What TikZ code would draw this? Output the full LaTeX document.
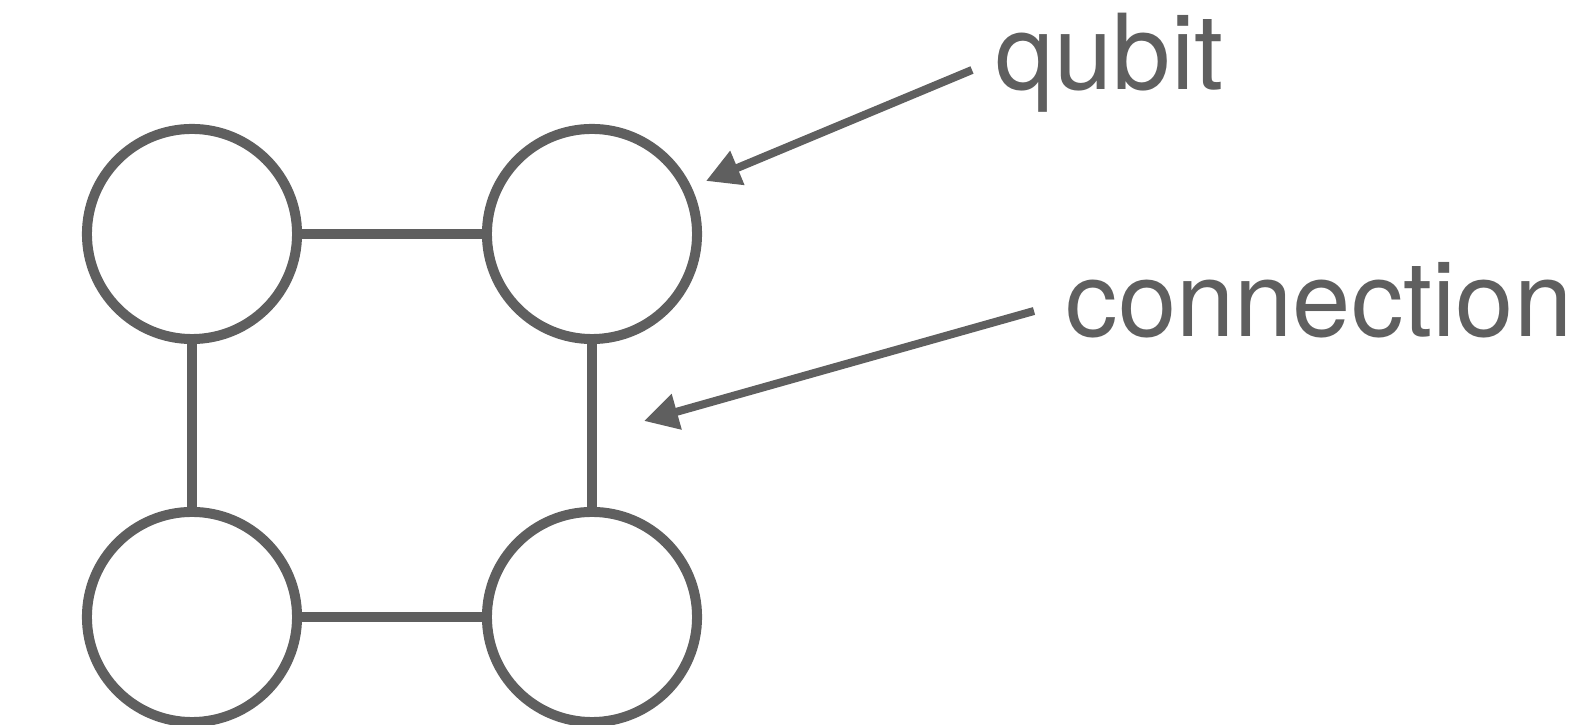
\documentclass[tikz,border=0pt]{standalone}
\usepackage{fontspec}
\setmainfont{TeX Gyre Heros}
\usetikzlibrary{arrows.meta}
\definecolor{linegray}{HTML}{5F5F5F}
\begin{document}
\begin{tikzpicture}[
    x=0.01cm, y=-0.01cm,
    qubit/.style={
      draw,
      color=linegray,
      circle,
      line width=0.1cm,
      minimum size=2.1cm,
      inner sep=0pt
    },
    coupling/.style={
      draw,
      color=linegray,
      line width=0.1cm
    },
    pointer/.style={
      draw,
      color=linegray,
      line width=0.08cm,
      -{Triangle[length=0.34cm,width=0.35cm]}
    },
    tag/.style={
      text=linegray,
      anchor=base west,
      inner sep=0pt,
      font=\fontsize{29.8}{36}\selectfont
    }
  ]
    \useasboundingbox (0,0) rectangle (1593,725);

    \node[qubit] (q11) at (192,234) {};
    \node[qubit] (q12) at (592,234) {};
    \node[qubit] (q21) at (192,617) {};
    \node[qubit] (q22) at (592,617) {};

    \node[tag] (qubitlabel) at (995,89.5) {qubit};
    \node[tag] (connlabel) at (1065,337) {connection};

    \coordinate (qubittail) at (972,70);
    \coordinate (qubittip) at (706,181);
    \coordinate (conntail) at (1034,311);
    \coordinate (conntip) at (644,421);

    \path[coupling]
      (q11) edge (q12)
      (q21) edge (q22)
      (q11) edge (q21)
      (q12) edge (q22);

    \draw[pointer] (qubittail) -- (qubittip);
    \draw[pointer] (conntail) -- (conntip);
  \end{tikzpicture}
\end{document}
